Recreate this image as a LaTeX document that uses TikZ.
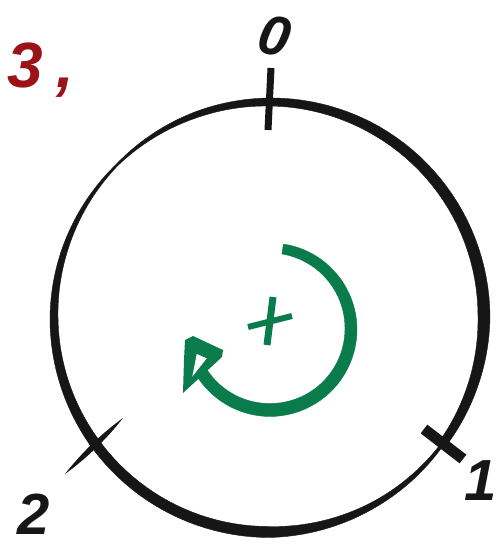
\documentclass[tikz,border=0pt]{standalone}
\usepackage{fontspec}
\setmainfont{Liberation Sans}
\definecolor{ink}{RGB}{22,22,22}
\definecolor{redink}{RGB}{155,18,24}
\definecolor{greenink}{RGB}{10,124,76}
% #1 cx, #2 cy, #3 radius, #4 start angle, #5 end angle, #6 start width, #7 end width, #8 colour
\newcommand\brushring[8]{%
  \filldraw[#8,line width=0.4pt]
    plot[domain=#4:#5,samples=24]
      ({#1+(#3+0.5*((#6)+((#7)-(#6))*(\x-(#4))/((#5)-(#4))))*cos(\x)},
       {#2-(#3+0.5*((#6)+((#7)-(#6))*(\x-(#4))/((#5)-(#4))))*sin(\x)})
    -- plot[domain=#5:#4,samples=24]
      ({#1+(#3-0.5*((#6)+((#7)-(#6))*(\x-(#4))/((#5)-(#4))))*cos(\x)},
       {#2-(#3-0.5*((#6)+((#7)-(#6))*(\x-(#4))/((#5)-(#4))))*sin(\x)})
    -- cycle;}
\tikzset{
  digit/.style={inner sep=0pt, text=ink, font=\bfseries\itshape},
  tickmark/.style={draw=ink, line cap=butt},
}
\begin{document}
\begin{tikzpicture}[x=1pt,y=-1pt]
\fill[white] (0,0) rectangle (499,549);
\useasboundingbox (0,0) rectangle (499,549);

% main circle, brush-like variable width (centre 269,317; r 215)
\brushring{269}{317}{215}{-37}{-60}{3}{6}{ink}
\brushring{269}{317}{215}{-60}{-90}{6}{11}{ink}
\brushring{269}{317}{215}{-90}{-145}{11}{10}{ink}
\brushring{269}{317}{215}{-145}{-180}{10}{8}{ink}
\brushring{269}{317}{215}{-180}{-197}{8}{6}{ink}
\brushring{269}{317}{215}{-197}{-225}{6}{2}{ink}
\brushring{269}{317}{215}{-225}{-250}{2}{6}{ink}
\brushring{269}{317}{215}{-250}{-270}{6}{8}{ink}
\brushring{269}{317}{215}{-270}{-300}{8}{10}{ink}
\brushring{269}{317}{215}{-300}{-360}{10}{12}{ink}
\brushring{269}{317}{215}{-360}{-397}{12}{8}{ink}

% tick marks
\coordinate (t0a) at (271,68);  \coordinate (t0b) at (268,130);
\draw[tickmark, line width=7pt] (t0a) -- (t0b);
\coordinate (t1a) at (424,429); \coordinate (t1b) at (463,459);
\draw[tickmark, line width=11pt] (t1a) -- (t1b);
\fill[ink] (123,418) .. controls (106.3,439.4) and (86.9,458.0) .. (65,474)
           .. controls (81.7,452.6) and (101.1,434.0) .. (123,418) -- cycle;

% labels
\node[digit, font=\fontsize{56}{56}\selectfont\bfseries\itshape, anchor=base, rotate=-12] (l0) at (271,55) {0};
\node[digit, font=\fontsize{58}{58}\selectfont\bfseries\itshape, anchor=base east] (l1) at (497,500) {1};
\node[digit, font=\fontsize{58}{58}\selectfont\bfseries\itshape, anchor=base] (l2) at (34,534) {2};
\node[digit, text=redink, font=\fontsize{64}{64}\selectfont\bfseries\itshape, anchor=base west] (l3) at (7,87) {3\kern14pt,};

% green rotation arrow (centre 270,329; r 81)
\brushring{270}{329}{81}{81}{0}{10}{12}{greenink}
\brushring{270}{329}{81}{0}{-90}{12}{13}{greenink}
\brushring{270}{329}{81}{-90}{-147}{13}{12}{greenink}
\fill[greenink] (185,340) -- (193,336) -- (223,350) -- (222,357) -- (183,393) -- (184,360) -- cycle;
\fill[white] (196.7,354) -- (192.3,376.7) -- (206.7,358.3) -- cycle;

% plus sign
\coordinate (pva) at (273,297); \coordinate (pvb) at (267,345);
\coordinate (pha) at (248,327); \coordinate (phb) at (292,316);
\draw[draw=greenink, line width=7pt] (pva) -- (pvb);
\draw[draw=greenink, line width=6pt] (pha) -- (phb);
\end{tikzpicture}
\end{document}
